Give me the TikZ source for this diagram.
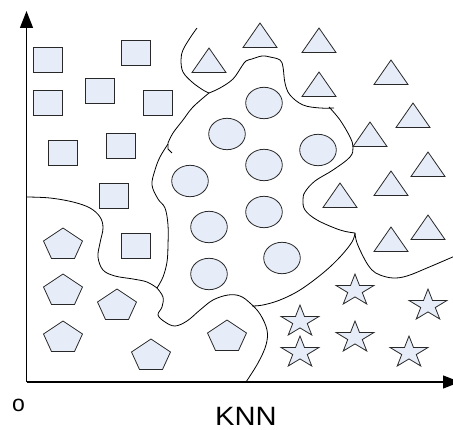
\documentclass[tikz,border=0pt]{standalone}
\usepackage{fontspec}
\setmainfont{Liberation Sans}
\usetikzlibrary{arrows.meta}
\definecolor{shapefill}{RGB}{231,237,248}
\definecolor{shapeline}{RGB}{40,40,40}
\begin{document}
\begin{tikzpicture}[x=1pt,y=-1pt,
  item/.style={draw=shapeline, fill=shapefill, line width=0.8pt},
  boundary/.style={draw=black, line width=0.8pt},
  axis/.style={line width=1.3pt, -{Triangle[length=17pt,width=13pt]}},
  pics/sq/.style={code={\path[item] (-14.75,-12.5) rectangle (14.75,12.5);}},
  pics/tri/.style={code={\path[item] (0,0) -- (17,24.5) -- (-17,24.5) -- cycle;}},
  pics/circ/.style={code={\path[item] (0,0) ellipse [x radius=18.3, y radius=15.7];}},
  pics/pent/.style={code={\path[item] (0,0) -- (19.5,13) -- (11.5,30.5) -- (-11.5,30.5) -- (-19.5,13) -- cycle;}},
  pics/starshape/.style={code={\path[item] (0,0) -- (-4.49,11.46) -- (-19.02,11.46) -- (-7.27,18.55)
      -- (-11.76,30) -- (0,22.92) -- (11.76,30) -- (7.27,18.55) -- (19.02,11.46) -- (4.49,11.46) -- cycle;}}
]
\useasboundingbox (0,0) rectangle (453,430);

% axes
\coordinate (O) at (26.5,382);
\coordinate (ytip) at (26.5,11);
\coordinate (xtip) at (460,382);
\draw[axis] (O) -- (ytip);
\draw[axis] (O) -- (xtip);
\node[font=\fontsize{23}{26}\selectfont, anchor=base, inner sep=0pt] (origin) at (18.5,412) {o};
\node[font=\fontsize{26.5}{30}\selectfont, anchor=base, inner sep=0pt] (title) at (246,426) {\scalebox{1.1}[1]{KNN}};

% decision boundaries
\draw[boundary] plot[smooth, tension=0.6] coordinates {(197,28) (190,38) (183,50) (181,60) (183,72) (192,82) (203,90) (209,93)};
\draw[boundary] plot[smooth, tension=0.6] coordinates {(209,93) (220,88) (233,79) (242,66) (246,61) (252,59) (262,56) (270,57) (280,60) (283,67) (285,83) (290,95) (303,105) (320,108) (334,108)};
\draw[boundary] plot[smooth, tension=0.6] coordinates {(329,107) (340,120) (350,137) (353,147) (350,157) (333,170) (315,181) (305,192) (303,200) (305,210) (317,220) (340,230) (355,233)};
\draw[boundary] plot[smooth, tension=0.6] coordinates {(355,233) (352,242) (340,257) (323,273) (300,290) (280,300) (263,305) (252,306)};
\draw[boundary] plot[smooth, tension=0.6] coordinates {(355,233) (357,243) (365,260) (372,270) (380,275) (393,278) (407,276) (427,268) (455,256)};
\draw[boundary] plot[smooth, tension=0.6] coordinates {(157,288) (163,297) (162,307) (158,315) (165,322) (175,326) (187,321) (200,310) (213,300) (228,295) (240,296) (250,303) (260,314) (267,330) (266,345) (258,363) (246,382)};
\draw[boundary] plot[smooth, tension=0.6] coordinates {(209,93) (193,107) (183,120) (173,133) (168,143)} -- (168,149) -- (172,153);
\draw[boundary] plot[smooth, tension=0.6] coordinates {(168,144) (160,157) (155,170) (152,185) (158,199) (165,208) (168,225) (168,245) (167,262) (163,277) (157,288)};
\draw[boundary] plot[smooth, tension=0.6] coordinates {(27,197) (50,198) (73,202) (90,208) (100,217) (103,228) (100,243) (98,257) (103,270) (115,276) (133,279) (147,282) (157,288)};

% squares
\foreach \p in {(48,60),(136,53),(48,103),(100,91),(158,103),(63,153),(121,146),(114,196),(136,246)}
  \pic at \p {sq};
% triangles (apex positions)
\foreach \p in {(209,48),(260,23),(319,28),(319,72),(391,60),(413,103),(370,122),(428,152),(391,171),(340,183),(428,215),(391,227)}
  \pic at \p {tri};
% circles
\foreach \p in {(264,103),(227,134),(318,150),(264,165),(190,181),(264,212),(209,227),(282,258),(209,274)}
  \pic at \p {circ};
% pentagons (apex positions)
\foreach \p in {(63,228),(63,274),(117,289),(63,321),(151,339),(227,320)}
  \pic at \p {pent};
% stars (apex positions)
\foreach \p in {(355,274),(428,289),(300,305),(355,321),(300,336),(409,336)}
  \pic at \p {starshape};
\end{tikzpicture}
\end{document}
